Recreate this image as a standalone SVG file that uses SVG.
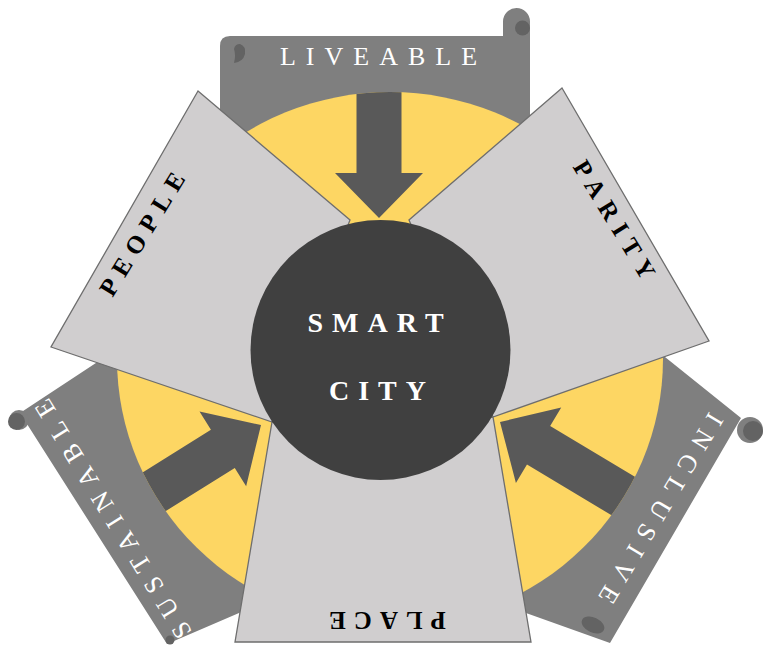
<svg xmlns="http://www.w3.org/2000/svg" width="763" height="650" viewBox="0 0 763 650">
<style>
.banner{fill:#7f7f7f}
.roll{fill:#636363}
.trap{fill:#d0cecf;stroke:#6e6e6e;stroke-width:1.3;stroke-linejoin:miter}
.arrow{fill:#595959}
.ban{font-family:"Liberation Serif",serif;font-size:26px;fill:#ffffff;letter-spacing:10px;text-anchor:middle}
.lab{font-family:"Liberation Serif",serif;font-weight:bold;font-size:25px;fill:#000000;letter-spacing:8px;text-anchor:middle}
.ctr{font-family:"Liberation Serif",serif;font-weight:bold;font-size:28px;fill:#ffffff;letter-spacing:9px;text-anchor:middle}
</style>
<defs>
<clipPath id="yclip"><ellipse cx="390" cy="359" rx="273" ry="267"/></clipPath>
<path id="arr" d="M0,0 L-44,-45 L-22.5,-45 L-22.5,-175 L22.5,-175 L22.5,-45 L44,-45 Z"/>
</defs>

<g id="banner-liveable">
<path class="banner" d="M220,46 Q220,36 230,36 L503,36 L503,21.5 A13.5,13.5 0 0 1 530,21.5 L530,150 L380,350 L220,150 Z"/>
<circle class="roll" cx="522.5" cy="28" r="7.5"/>
<path class="roll" d="M240,44 Q246,46 245,54 Q243,62 234,63 Q236,55 234,49 Q235,44 240,44 Z"/>
</g>
<g id="banner-sustainable">
<path class="banner" d="M187,303 L20,413 L167,644 L239,613 L305,585 L380,350 Z"/>
<circle class="banner" cx="19" cy="420" r="10"/>
<circle class="roll" cx="16.5" cy="421.5" r="8.5"/>
<circle class="roll" cx="170" cy="640" r="4.5"/>
</g>
<g id="banner-inclusive">
<path class="banner" d="M618,320 L665,357 L741,418 L610,643 L526,613 L450,586 L380,350 Z"/>
<circle class="banner" cx="750" cy="430" r="13"/>
<circle class="roll" cx="753" cy="431" r="10"/>
<ellipse class="roll" cx="593" cy="625" rx="12" ry="7.5" transform="rotate(25 593 625)"/>
</g>

<g id="yellow-disc">
<ellipse cx="390" cy="359" rx="273" ry="267" fill="#fdd663"/>
</g>

<g id="connectors" clip-path="url(#yclip)">
<use href="#arr" class="arrow" transform="translate(379,218)"/>
<use href="#arr" class="arrow" transform="translate(261,425) rotate(-122)"/>
<use href="#arr" class="arrow" transform="translate(500,422) rotate(121)"/>
</g>

<g id="node-people">
<polygon class="trap" points="198,91 51,347 272,422 350,220"/>
<text class="lab" transform="translate(142,234) rotate(-58.3)" x="4" y="8.5">PEOPLE</text>
</g>
<g id="node-parity">
<polygon class="trap" points="562,88 709,341 493,417 409,220"/>
<text class="lab" transform="translate(614.5,219.5) rotate(58.5)" x="4" y="8.5">PARITY</text>
</g>
<g id="node-place">
<polygon class="trap" points="272,422 235,642 531,642 493,417"/>
<text class="lab" transform="translate(387.5,620.5) rotate(180)" x="4" y="8.5">PLACE</text>
</g>

<g id="node-smart-city">
<circle cx="380.5" cy="350" r="130" fill="#404040"/>
<text class="ctr" x="380" y="332">SMART</text>
<text class="ctr" x="382" y="400">CITY</text>
</g>

<g id="banner-texts">
<text class="ban" x="383.5" y="65">LIVEABLE</text>
<text class="ban" transform="translate(113,519) rotate(-121.6)" x="5" y="8.7">SUSTAINABLE</text>
<text class="ban" transform="translate(661,508.5) rotate(121)" x="5" y="8.7">INCLUSIVE</text>
</g>
</svg>
